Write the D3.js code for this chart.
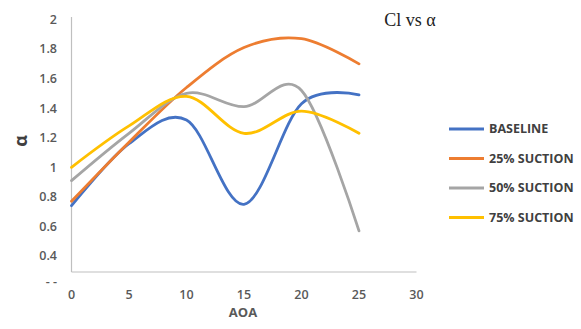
<!DOCTYPE html>
<html><head><meta charset="utf-8">
<script src="https://cdn.jsdelivr.net/npm/d3@7/dist/d3.min.js"></script>
<style>body{margin:0;background:#fff;} svg{display:block;}</style>
</head><body>
<svg id="chart" width="581" height="329"></svg>
<script>
const aoa = [0, 5, 10, 15, 20, 25];
const baseline = [0.74, 1.16, 1.32, 0.75, 1.43, 1.49];
const suction25 = [0.77, 1.17, 1.54, 1.81, 1.87, 1.70];
const suction50 = [0.91, 1.23, 1.50, 1.41, 1.52, 0.57];
const suction75 = [1.00, 1.28, 1.48, 1.23, 1.38, 1.23];
const seriesNames = ["BASELINE", "25% SUCTION", "50% SUCTION", "75% SUCTION"];
const colors = ["#4472C4", "#ED7D31", "#A5A5A5", "#FFC000"];
const xTicks = [0, 5, 10, 15, 20, 25, 30];
const yTicks = [0.4, 0.6, 0.8, 1, 1.2, 1.4, 1.6, 1.8, 2];
const yTickLabels = ["0.4", "0.6", "0.8", "1", "1.2", "1.4", "1.6", "1.8", "2"];

const svg = d3.select("#chart");
const x = d3.scaleLinear().domain([0, 30]).range([71.5, 416.5]);
const y = d3.scaleLinear().domain([0.4, 2]).range([256, 19.5]);
const yBase = 272;

// axes lines
svg.append("line").attr("x1", x(0)).attr("x2", x(30)).attr("y1", yBase).attr("y2", yBase)
  .attr("stroke", "#bfbfbf").attr("stroke-width", 1.2);
svg.append("line").attr("x1", x(0)).attr("x2", x(0)).attr("y1", 17).attr("y2", yBase)
  .attr("stroke", "#bfbfbf").attr("stroke-width", 1.2);

const tickFont = "Open Sans, Liberation Sans, sans-serif";
// y tick labels
svg.append("g").selectAll("text").data(yTicks).join("text")
  .attr("x", 57).attr("y", d => y(d)).attr("dy", "0.35em")
  .attr("text-anchor", "end").attr("font-family", tickFont)
  .attr("font-size", 12.5).attr("font-weight", 600).attr("fill", "#595959")
  .text((d, i) => yTickLabels[i]);
svg.append("text").attr("x", 57).attr("y", y(0.23)).attr("dy", "0.35em")
  .attr("text-anchor", "end").attr("font-family", tickFont)
  .attr("font-size", 12.5).attr("font-weight", 600).attr("fill", "#595959").text("- -");

// x tick labels
svg.append("g").selectAll("text").data(xTicks).join("text")
  .attr("x", d => x(d)).attr("y", 295).attr("dy", "0.35em")
  .attr("text-anchor", "middle").attr("font-family", tickFont)
  .attr("font-size", 12.5).attr("font-weight", 600).attr("fill", "#595959")
  .text(d => d);

// axis titles
svg.append("text").attr("x", 243).attr("y", 312).attr("dy", "0.35em")
  .attr("text-anchor", "middle").attr("font-family", tickFont)
  .attr("font-size", 13).attr("font-weight", 700).attr("fill", "#595959").text("AOA");
svg.append("text").attr("transform", "translate(21,141) rotate(-90)").attr("dy", "0.35em")
  .attr("text-anchor", "middle").attr("font-family", tickFont)
  .attr("font-size", 18).attr("font-weight", 700).attr("fill", "#404040").text("α");

// title
svg.append("text").attr("x", 410).attr("y", 20).attr("dy", "0.35em")
  .attr("text-anchor", "middle").attr("font-family", "Liberation Serif, Times New Roman, serif")
  .attr("font-size", 18).attr("fill", "#222").text("Cl vs α");

// lines
const data = [baseline, suction25, suction50, suction75];
const line = d3.line().x((d, i) => x(aoa[i])).y(d => y(d)).curve(d3.curveCatmullRom.alpha(0));
svg.append("g").selectAll("path").data(data).join("path")
  .attr("d", d => line(d)).attr("fill", "none")
  .attr("stroke", (d, i) => colors[i]).attr("stroke-width", 2.8)
  .attr("stroke-linecap", "round");

// legend
const lg = svg.append("g").selectAll("g").data(seriesNames).join("g")
  .attr("transform", (d, i) => `translate(449,${129 + i * 29.5})`);
lg.append("line").attr("x1", 0).attr("x2", 35).attr("y1", 0).attr("y2", 0)
  .attr("stroke", (d, i) => colors[i]).attr("stroke-width", 2.8);
lg.append("text").attr("x", 40).attr("y", 0).attr("dy", "0.35em")
  .attr("font-family", tickFont).attr("font-size", 12.5).attr("font-weight", 700)
  .attr("fill", "#404040").text(d => d);
</script>
</body></html>
